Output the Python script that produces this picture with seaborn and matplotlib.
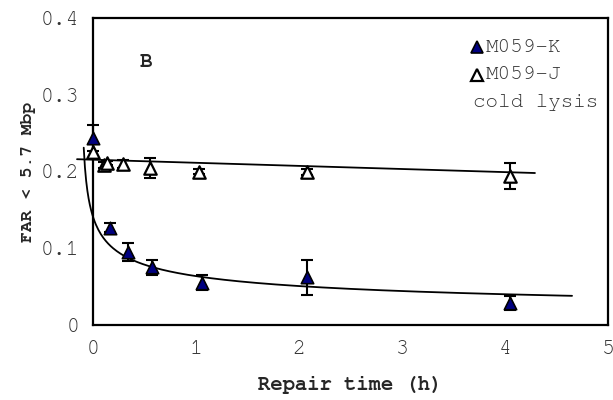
import numpy as np
import pandas as pd
import matplotlib
matplotlib.use("Agg")
import matplotlib.pyplot as plt
import seaborn as sns

sns.set_theme(style="white")
plt.rcParams["font.family"] = ["Courier New", "Nimbus Mono PS", "FreeMono",
                               "Liberation Mono"]

# Repair kinetics, M059-K cells (filled triangles)
k_time = [0.0, 0.165, 0.34, 0.57, 1.06, 2.08, 4.05]
k_far = [0.244, 0.127, 0.095, 0.075, 0.055, 0.062, 0.029]
k_err = [0.017, 0.006, 0.012, 0.010, 0.010, 0.023, 0.009]

# Repair kinetics, M059-J cells, cold lysis (open triangles)
j_time = [0.0, 0.11, 0.14, 0.29, 0.55, 1.03, 2.08, 4.05]
j_far = [0.226, 0.209, 0.211, 0.210, 0.204, 0.200, 0.199, 0.194]
j_err = [0.010, 0.004, 0.003, 0.005, 0.013, 0.003, 0.004, 0.017]

# Trend lines: power fit a*(t+c)^b for M059-K, linear fit for M059-J
k_fit_a, k_fit_b, k_fit_c = 0.0663, -0.356, 0.12
k_fit_range = (-0.09, 4.65)
j_fit_slope, j_fit_intercept = -0.00405, 0.2154
j_fit_range = (-0.155, 4.29)

x_ticks = [0, 1, 2, 3, 4, 5]
y_ticks = [0, 0.1, 0.2, 0.3, 0.4]
y_tick_labels = ["0", "0.1", "0.2", "0.3", "0.4"]

legend_labels = ["M059-K", "M059-J", "cold lysis"]

fig = plt.figure(figsize=(6.13, 4.0), dpi=100)
ax = fig.add_axes([0.1517, 0.1875, 0.992 - 0.1517, 0.955 - 0.1875])

# fitted curves
tk = np.linspace(*k_fit_range, 400)
k_curve = pd.DataFrame({"t": tk, "y": k_fit_a * (tk + k_fit_c) ** k_fit_b})
tj = np.array(j_fit_range)
j_curve = pd.DataFrame({"t": tj, "y": j_fit_intercept + j_fit_slope * tj})
sns.lineplot(data=k_curve, x="t", y="y", color="black", lw=1.3, ax=ax,
             sort=False, estimator=None, zorder=2, clip_on=False)
sns.lineplot(data=j_curve, x="t", y="y", color="black", lw=1.3, ax=ax,
             sort=False, estimator=None, zorder=2, clip_on=False)

# error bars
ax.errorbar(j_time, j_far, yerr=j_err, fmt="none", ecolor="black",
            elinewidth=1.5, capsize=4, capthick=1.5, zorder=3, clip_on=False)
ax.errorbar(k_time, k_far, yerr=k_err, fmt="none", ecolor="black",
            elinewidth=1.5, capsize=4, capthick=1.5, zorder=3, clip_on=False)

# data points
df_j = pd.DataFrame({"t": j_time, "far": j_far})
df_k = pd.DataFrame({"t": k_time, "far": k_far})
sns.scatterplot(data=df_j, x="t", y="far", marker="^", s=80, color="white",
                edgecolor="black", linewidth=1.6, ax=ax, zorder=4, clip_on=False)
sns.scatterplot(data=df_k, x="t", y="far", marker="^", s=80, color="#000080",
                edgecolor="black", linewidth=1.2, ax=ax, zorder=5, clip_on=False)

ax.set_xlim(0, 5)
ax.set_ylim(0, 0.4)
ax.set_xticks(x_ticks)
ax.set_yticks(y_ticks)
ax.set_yticklabels(y_tick_labels)
ax.tick_params(direction="in", length=4, width=1, colors="black",
               labelcolor="#333333", labelsize=15.5)
ax.tick_params(axis="y", pad=10)
ax.tick_params(axis="x", pad=11)
for s in ax.spines.values():
    s.set_color("black")
    s.set_linewidth(1.6)

ax.set_xlabel("Repair time (h)", fontsize=14.8, fontweight="bold", labelpad=13)
ax.set_ylabel("FAR < 5.7 Mbp", fontsize=13, fontweight="bold", labelpad=3)

ax.text(0.45, 0.343, "B", fontsize=15, fontweight="bold", ha="left",
        va="center")

# key in the upper right corner
key_x = 0.745
key_y = [0.905, 0.815, 0.725]
ax.plot([key_x], [key_y[0]], marker="^", ls="none", markersize=8.5,
        markerfacecolor="#000080", markeredgecolor="black",
        markeredgewidth=1.2, transform=ax.transAxes)
ax.plot([key_x], [key_y[1]], marker="^", ls="none", markersize=8.5,
        markerfacecolor="white", markeredgecolor="black",
        markeredgewidth=1.6, transform=ax.transAxes)
for i, lab in enumerate(legend_labels):
    x0 = key_x + 0.018 if i < 2 else key_x - 0.008
    ax.text(x0, key_y[i], lab, transform=ax.transAxes, fontsize=15,
            color="#333333", ha="left", va="center")

fig.savefig("out.png", dpi=100)
